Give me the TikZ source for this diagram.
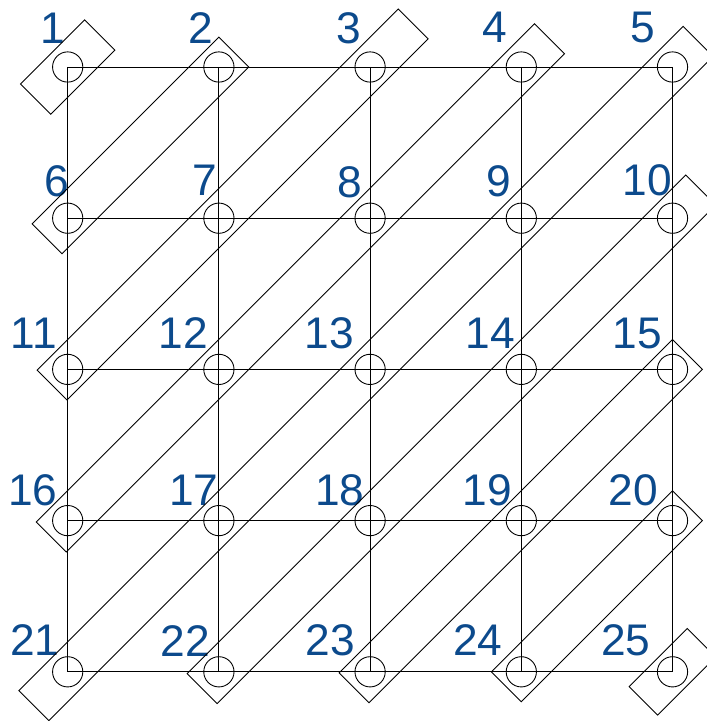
\documentclass[tikz,border=0pt]{standalone}
\usepackage{fontspec}
\setmainfont{Liberation Sans}
\usetikzlibrary{calc}
\definecolor{blau}{HTML}{0C4A8C}
\tikzset{
  knoten/.style={circle,draw,line width=0.5pt,minimum size=0.6cm,inner sep=0pt},
  gitter/.style={line width=0.5pt},
  band/.style={draw,line width=0.5pt,inner sep=0pt},
  nummer/.style={blau,inner sep=0pt,font=\fontsize{25}{30}\selectfont},
}
% Streifen von #1 nach #2, verlaengert um #3 bzw. #4
\newcommand{\streifen}[4]{%
  \coordinate (bs) at ($(#1)!-#3!(#2)$);
  \coordinate (be) at ($(#2)!-#4!(#1)$);
  \draw[band] ($(bs)!0.42cm!90:(be)$) -- ($(be)!0.42cm!-90:(bs)$)
    -- ($(be)!0.42cm!90:(bs)$) -- ($(bs)!0.42cm!-90:(be)$) -- cycle;
}

\begin{document}
\begin{tikzpicture}
  \useasboundingbox (-1.343,1.329) rectangle (12.684,-12.976);
  % Knoten zeilenweise
  \foreach \r in {0,...,4}
    \foreach \c in {1,...,5}{
      \pgfmathtruncatemacro{\k}{5*\r+\c}
      \node[knoten] (n\k) at ({3*(\c-1)},{-3*\r}) {};
    }
  % Gitter
  \foreach \a/\b in {1/5,6/10,11/15,16/20,21/25,1/21,2/22,3/23,4/24,5/25}
    \draw[gitter] (n\a.center) -- (n\b.center);
  % Nummern
  \foreach \k/\dx/\dy in {1/-0.29/0.77,2/-0.35/0.77,3/-0.42/0.77,4/-0.52/0.79,
      5/-0.59/0.79,6/-0.22/0.73,7/-0.28/0.76,8/-0.40/0.72,9/-0.45/0.73,
      10/-0.50/0.75,11/-0.67/0.72,12/-0.70/0.72,13/-0.81/0.72,14/-0.62/0.72,
      15/-0.70/0.72,16/-0.69/0.60,17/-0.50/0.60,18/-0.60/0.61,19/-0.67/0.61,
      20/-0.78/0.61,21/-0.65/0.63,22/-0.67/0.62,23/-0.79/0.62,24/-0.86/0.63,
      25/-0.93/0.63}
    \path (n\k) ++(\dx,\dy) node[nummer] (t\k) {\k};
  % Diagonalen
  \node[band,minimum width=1.8cm,minimum height=0.85cm,rotate=45] (b1) at (n1) {};
  \streifen{n6}{n2}{0.58cm}{0.42cm}
  \streifen{n11}{n3}{0.44cm}{1.21cm}
  \streifen{n16}{n4}{0.46cm}{0.79cm}
  \streifen{n21}{n5}{0.95cm}{0.72cm}
  \streifen{n22}{n10}{0.47cm}{0.79cm}
  \streifen{n23}{n15}{0.45cm}{0.42cm}
  \streifen{n24}{n20}{0.42cm}{0.42cm}
  \node[band,minimum width=1.63cm,minimum height=0.8cm,rotate=45] (b9) at (n25) {};
\end{tikzpicture}
\end{document}
